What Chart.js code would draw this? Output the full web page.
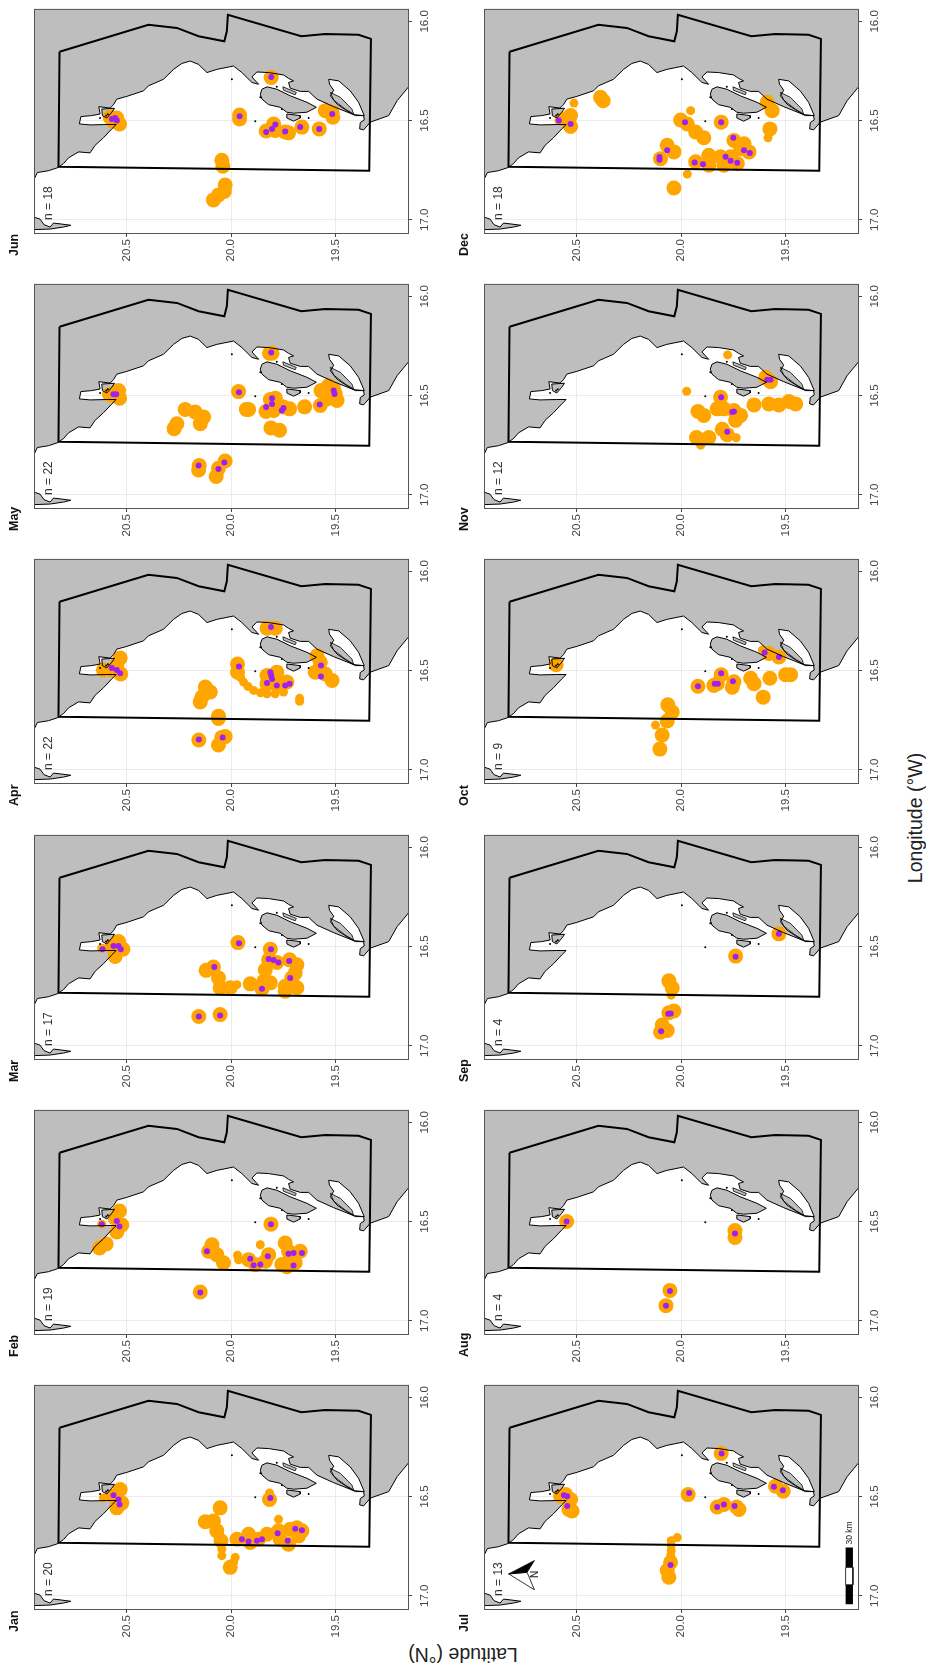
<!DOCTYPE html>
<html>
<head>
<meta charset="utf-8">
<title>Monthly density maps</title>
<script src="https://cdn.jsdelivr.net/npm/chart.js@4"></script>
<style>
  body { margin: 0; background: #fff; }
  #page { position: relative; width: 926px; height: 1667px; overflow: hidden; background: #fff; }
  canvas { position: absolute; }
  .axis-title { position: absolute; font-family: "Liberation Sans", sans-serif; font-size: 19.5px; color: #222; white-space: nowrap; }
</style>
</head>
<body>
<div id="page">
  <div class="axis-title" style="left:463px;top:1654px;transform:translate(-50%,-50%) rotate(180deg)">Latitude (°N)</div>
  <div class="axis-title" style="left:915px;top:818px;transform:translate(-50%,-50%) rotate(-90deg)">Longitude (°W)</div>
</div>
<script>
const months = ['Jan', 'Feb', 'Mar', 'Apr', 'May', 'Jun', 'Jul', 'Aug', 'Sep', 'Oct', 'Nov', 'Dec'];
const counts = [20, 19, 17, 22, 22, 18, 13, 4, 4, 9, 12, 18];
const latTicks = [20.5, 20.0, 19.5];
const lonTicks = [16.0, 16.5, 17.0];

// all map points are [latitude, longitude]
const coast = [[20.943,16.797],[20.927,16.762],[20.874,16.753],[20.831,16.738],[20.802,16.717],[20.778,16.688],[20.730,16.658],[20.675,16.663],[20.651,16.625],[20.611,16.587],[20.571,16.542],[20.550,16.520],[20.595,16.520],[20.675,16.522],[20.726,16.517],[20.719,16.480],[20.667,16.475],[20.627,16.467],[20.633,16.430],[20.579,16.437],[20.563,16.420],[20.547,16.392],[20.499,16.378],[20.419,16.350],[20.396,16.325],[20.324,16.292],[20.276,16.242],[20.236,16.212],[20.196,16.200],[20.156,16.217],[20.116,16.258],[20.069,16.242],[19.989,16.225],[19.949,16.258],[19.901,16.308],[19.869,16.317],[19.901,16.280],[19.877,16.255],[19.821,16.258],[19.750,16.270],[19.726,16.287],[19.702,16.300],[19.726,16.308],[19.718,16.337],[19.670,16.353],[19.630,16.353],[19.590,16.392],[19.510,16.430],[19.415,16.470],[19.367,16.475],[19.364,16.497],[19.383,16.510],[19.386,16.542],[19.367,16.547],[19.335,16.508],[19.247,16.475],[19.207,16.400],[19.152,16.330]];
const landCorners = [[19.1,16.33],[19.1,15.9],[21.0,15.9],[21.0,16.797]];
const southLand = [[20.943,16.987],[20.914,16.997],[20.895,17.025],[20.866,17.037],[20.850,17.017],[20.810,17.022],[20.767,17.028],[20.802,17.037],[20.866,17.047],[20.943,17.050]];
const lagoon = [[19.534,16.292],[19.486,16.300],[19.431,16.350],[19.391,16.408],[19.364,16.475],[19.407,16.475],[19.447,16.450],[19.494,16.417],[19.526,16.375],[19.510,16.347],[19.530,16.317]];
const lagoonSpit = [[19.526,16.358],[19.478,16.383],[19.423,16.442],[19.415,16.467],[19.455,16.442],[19.510,16.397]];
const bigIsland = [[19.853,16.342],[19.829,16.330],[19.782,16.342],[19.718,16.375],[19.638,16.408],[19.593,16.433],[19.638,16.458],[19.702,16.463],[19.734,16.458],[19.766,16.433],[19.821,16.420],[19.853,16.392],[19.861,16.367]];
const smallIsland = [[19.734,16.467],[19.670,16.475],[19.670,16.487],[19.702,16.503],[19.734,16.487]];
const capIsland = [[20.619,16.442],[20.558,16.438],[20.571,16.458],[20.595,16.487],[20.616,16.475]];
const sandBank = [[19.753,16.330],[19.689,16.358],[19.694,16.370],[19.750,16.347]];
const islets = [[19.997,16.292],[19.861,16.383],[19.885,16.503],[19.758,16.442],[19.630,16.487],[19.782,16.330],[20.627,16.487],[20.598,16.475],[20.590,16.468]];
const boundary = [[20.821,16.153],[20.396,16.017],[20.260,16.033],[20.156,16.075],[20.033,16.100],[20.021,16.050],[20.016,15.967],[19.665,16.075],[19.550,16.063],[19.391,16.067],[19.332,16.088],[19.340,16.753],[20.826,16.733],[20.821,16.153]];

const janOrange = [[20.531,16.465],[20.523,16.532],[20.547,16.557],[20.563,16.498],[19.817,16.515],[20.053,16.557],[20.124,16.627],[20.085,16.623],[20.069,16.673],[20.049,16.723],[20.005,16.857],[19.973,16.715],[19.917,16.690],[19.909,16.732],[19.869,16.715],[19.829,16.690],[19.774,16.673],[19.766,16.715],[19.726,16.740],[19.678,16.698],[19.686,16.657],[19.718,16.665],[19.662,16.673]];
const janThin = [[19.817,16.482],[20.045,16.765],[20.045,16.798],[19.981,16.807],[19.989,16.832],[19.774,16.615],[20.611,16.507]];
const janPurple = [[20.563,16.493],[20.539,16.515],[20.534,16.540],[19.813,16.507],[19.949,16.715],[19.917,16.727],[19.877,16.723],[19.853,16.715],[19.778,16.685],[19.730,16.723],[19.694,16.662],[19.662,16.670]];

const febOrange = [[20.534,16.447],[20.523,16.517],[20.547,16.553],[20.555,16.483],[20.598,16.613],[20.630,16.633],[19.810,16.513],[20.148,16.855],[20.092,16.617],[20.108,16.650],[20.069,16.667],[20.037,16.708],[19.917,16.692],[19.885,16.717],[19.821,16.667],[19.837,16.700],[19.742,16.608],[19.670,16.650],[19.726,16.650],[19.758,16.717],[19.734,16.728],[19.694,16.708],[19.718,16.683]];
const febThin = [[19.965,16.693],[19.970,16.670],[19.861,16.617],[20.619,16.513]];
const febPurple = [[20.547,16.497],[20.534,16.525],[20.619,16.513],[19.810,16.513],[20.148,16.858],[20.116,16.650],[19.909,16.688],[19.893,16.720],[19.861,16.717],[19.825,16.675],[19.726,16.662],[19.702,16.658],[19.662,16.658],[19.702,16.722]];

const marOrange = [[20.539,16.475],[20.518,16.513],[20.555,16.550],[20.571,16.500],[19.968,16.480],[19.813,16.513],[19.821,16.567],[19.837,16.617],[19.845,16.675],[19.853,16.713],[19.813,16.683],[19.782,16.580],[19.721,16.567],[19.686,16.592],[19.694,16.633],[19.710,16.658],[19.742,16.700],[19.742,16.725],[19.686,16.708],[20.120,16.620],[20.085,16.603],[20.061,16.658],[20.053,16.708],[20.005,16.708],[19.909,16.688],[20.155,16.853],[20.053,16.843]];
const marThin = [[20.619,16.508],[19.973,16.692]];
const marPurple = [[20.563,16.497],[20.539,16.497],[20.528,16.513],[20.615,16.513],[19.963,16.483],[19.810,16.513],[19.821,16.563],[19.797,16.568],[19.774,16.580],[19.723,16.573],[19.718,16.658],[19.853,16.713],[20.081,16.603],[20.155,16.853],[20.053,16.847]];

const aprOrange = [[20.611,16.497],[20.531,16.437],[20.547,16.475],[20.528,16.517],[20.571,16.497],[19.970,16.467],[19.970,16.508],[19.829,16.525],[19.782,16.508],[19.829,16.567],[19.782,16.567],[19.734,16.558],[19.829,16.287],[19.789,16.287],[19.590,16.425],[19.574,16.458],[19.598,16.508],[19.550,16.517],[19.518,16.550],[20.124,16.583],[20.100,16.608],[20.140,16.633],[20.148,16.658],[20.061,16.730],[20.061,16.742],[20.155,16.850],[20.045,16.837],[20.029,16.833],[20.061,16.875]];
const aprThin = [[19.955,16.535],[19.941,16.558],[19.920,16.580],[19.893,16.600],[19.860,16.612],[19.829,16.617],[19.790,16.617],[19.750,16.608],[19.673,16.640],[19.673,16.655]];
const aprPurple = [[20.571,16.487],[20.547,16.497],[20.531,16.513],[19.963,16.480],[19.813,16.508],[19.809,16.525],[19.805,16.542],[19.829,16.563],[19.782,16.575],[19.742,16.575],[19.721,16.567],[19.810,16.280],[19.571,16.475],[19.571,16.530],[20.155,16.848],[20.041,16.838]];

const mayOrange = [[20.582,16.495],[20.539,16.475],[20.534,16.513],[20.563,16.500],[19.965,16.480],[19.928,16.570],[19.917,16.570],[19.834,16.580],[19.813,16.520],[19.789,16.513],[19.797,16.575],[19.750,16.558],[19.721,16.567],[19.774,16.550],[19.649,16.557],[19.571,16.475],[19.574,16.550],[19.534,16.450],[19.502,16.492],[19.494,16.525],[19.542,16.517],[19.510,16.467],[19.817,16.287],[19.805,16.287],[19.810,16.663],[19.769,16.675],[20.220,16.570],[20.172,16.583],[20.132,16.608],[20.148,16.642],[20.260,16.642],[20.273,16.667],[20.153,16.853],[20.156,16.875],[20.029,16.830],[20.061,16.867],[20.072,16.908]];
const mayThin = [];
const mayPurple = [[20.563,16.493],[20.550,16.493],[19.963,16.483],[19.805,16.513],[19.805,16.542],[19.833,16.558],[19.750,16.563],[19.758,16.575],[19.577,16.545],[19.510,16.475],[19.506,16.492],[19.809,16.283],[20.156,16.853],[20.033,16.837],[20.061,16.870]];

const junOrange = [[20.579,16.483],[20.547,16.487],[20.534,16.517],[20.566,16.503],[19.960,16.472],[19.960,16.492],[19.833,16.553],[19.797,16.517],[19.789,16.550],[19.742,16.558],[19.726,16.562],[19.662,16.533],[19.579,16.542],[19.550,16.450],[19.518,16.458],[19.514,16.483],[19.809,16.283],[20.045,16.700],[20.040,16.730],[20.029,16.825],[20.033,16.858],[20.061,16.875],[20.085,16.900]];
const junThin = [];
const junPurple = [[20.571,16.492],[20.555,16.487],[20.547,16.500],[19.960,16.478],[19.789,16.520],[19.805,16.542],[19.833,16.558],[19.742,16.555],[19.670,16.533],[19.579,16.542],[19.517,16.467],[19.809,16.280]];

const julOrange = [[20.553,16.490],[20.529,16.515],[20.537,16.565],[20.522,16.573],[20.577,16.498],[19.967,16.490],[19.828,16.553],[19.796,16.540],[19.735,16.553],[19.724,16.565],[19.809,16.283],[19.549,16.448],[19.512,16.473],[20.051,16.832],[20.067,16.873],[20.059,16.907]];
const julThin = [[20.019,16.707],[20.048,16.723],[20.048,16.745],[20.048,16.773],[20.050,16.795]];
const julPurple = [[20.561,16.493],[20.545,16.498],[20.545,16.548],[19.962,16.482],[19.828,16.553],[19.796,16.540],[19.745,16.548],[19.807,16.283],[19.557,16.450],[19.514,16.468],[20.051,16.845]];

const augOrange = [[20.548,16.500],[19.743,16.545],[19.743,16.580],[20.054,16.847],[20.073,16.924]];
const augThin = [];
const augPurple = [[20.548,16.500],[19.743,16.560],[20.054,16.850],[20.073,16.924]];

const sepOrange = [[19.533,16.436],[19.740,16.548],[20.059,16.673],[20.043,16.709],[20.059,16.834],[20.035,16.825],[20.091,16.896],[20.099,16.932],[20.067,16.923]];
const sepThin = [[20.048,16.745]];
const sepPurple = [[19.533,16.436],[19.740,16.552],[20.062,16.839],[20.050,16.838],[20.096,16.927]];

const octOrange = [[20.598,16.471],[19.920,16.579],[19.828,16.566],[19.809,16.521],[19.844,16.575],[19.748,16.557],[19.756,16.584],[19.668,16.539],[19.652,16.566],[19.576,16.539],[19.501,16.521],[19.477,16.521],[19.608,16.634],[19.581,16.414],[19.533,16.432],[20.064,16.673],[20.043,16.709],[20.067,16.754],[20.091,16.825],[20.102,16.896]];
const octThin = [[20.123,16.775],[19.612,16.396]];
const octPurple = [[19.920,16.579],[19.825,16.566],[19.840,16.566],[19.809,16.514],[19.753,16.554],[19.601,16.409],[19.533,16.432]];

const novOrange = [[19.596,16.408],[19.573,16.430],[19.812,16.508],[19.828,16.567],[19.796,16.567],[19.748,16.575],[19.716,16.600],[19.740,16.625],[19.920,16.580],[19.892,16.600],[19.804,16.670],[19.780,16.697],[19.927,16.712],[19.868,16.712],[19.652,16.547],[19.581,16.542],[19.533,16.547],[19.485,16.530],[19.453,16.542]];
const novThin = [[19.778,16.295],[19.974,16.478],[19.737,16.713],[19.907,16.750]];
const novPurple = [[19.589,16.420],[19.573,16.420],[19.809,16.508],[19.748,16.580],[19.756,16.583],[19.780,16.683]];

const decOrange = [[20.386,16.383],[20.373,16.400],[20.529,16.475],[20.529,16.530],[20.561,16.492],[20.003,16.497],[19.971,16.517],[19.809,16.508],[19.931,16.558],[19.892,16.587],[19.576,16.542],[19.589,16.408],[19.565,16.450],[20.067,16.625],[20.035,16.658],[20.099,16.692],[20.035,16.840],[19.931,16.708],[19.868,16.675],[19.868,16.725],[19.812,16.683],[19.796,16.725],[19.732,16.717],[19.764,16.683],[19.748,16.600],[19.700,16.617],[19.676,16.658],[19.716,16.642]];
const decThin = [[19.971,16.770],[20.513,16.412],[19.585,16.587],[20.585,16.500],[19.955,16.450]];
const decPurple = [[20.585,16.500],[20.529,16.517],[19.982,16.508],[19.809,16.508],[20.067,16.650],[20.104,16.697],[20.104,16.684],[19.936,16.712],[19.896,16.720],[19.788,16.683],[19.764,16.703],[19.732,16.713],[19.751,16.587],[19.700,16.650],[19.672,16.663]];

const orangeByMonth = [janOrange, febOrange, marOrange, aprOrange, mayOrange, junOrange, julOrange, augOrange, sepOrange, octOrange, novOrange, decOrange];
const thinByMonth = [janThin, febThin, marThin, aprThin, mayThin, junThin, julThin, augThin, sepThin, octThin, novThin, decThin];
const purpleByMonth = [janPurple, febPurple, marPurple, aprPurple, mayPurple, junPurple, julPurple, augPurple, sepPurple, octPurple, novPurple, decPurple];

// July only: north arrow and 30 km scale bar
const arrowDark = [[20.825,16.890],[20.702,16.823],[20.737,16.882]];
const arrowLight = [[20.825,16.890],[20.737,16.882],[20.702,16.970]];
const barEndA = [[19.214,16.757],[19.179,16.757],[19.179,16.857],[19.214,16.857]];
const barMiddle = [[19.214,16.857],[19.179,16.857],[19.179,16.945],[19.214,16.945]];
const barEndB = [[19.214,16.945],[19.179,16.945],[19.179,17.043],[19.214,17.043]];

const latRange = [19.150, 20.943];
const lonRange = [15.937, 17.072];

const GRAY = '#bebebe';
const ORANGE = '#ffa500';
const PURPLE = '#a020f0';
const FONT = '"Liberation Sans", sans-serif';

function pts(list) {
    return list.map(p => ({ x: p[0], y: p[1] }));
}

function fillShape(list, color) {
    return { data: pts(list), showLine: true, fill: 'shape', backgroundColor: color, borderWidth: 0, pointRadius: 0 };
}

function outline(list, width, closed) {
    const line = closed ? list.concat([list[0]]) : list;
    return { data: pts(line), showLine: true, fill: false, borderColor: '#000', borderWidth: width, pointRadius: 0 };
}

function dots(list, color, radius) {
    return { data: pts(list), showLine: false, pointRadius: radius, pointBackgroundColor: color, pointBorderWidth: 0 };
}

function rotatedText(ctx, text, x, y, font, color, align) {
    ctx.save();
    ctx.translate(x, y);
    ctx.rotate(-Math.PI / 2);
    ctx.font = font;
    ctx.fillStyle = color;
    ctx.textAlign = align;
    ctx.textBaseline = 'middle';
    ctx.fillText(text, 0, 0);
    ctx.restore();
}

// frame round the map plus the month, n and July labels
const panelText = {
    id: 'panelText',
    afterDraw(chart, args, opts) {
        const ctx = chart.ctx;
        const a = chart.chartArea;
        ctx.save();
        ctx.strokeStyle = '#555';
        ctx.lineWidth = 1;
        ctx.strokeRect(a.left + 0.5, a.top + 0.5, a.width - 1, a.height - 1);
        ctx.restore();
        rotatedText(ctx, opts.month, a.left - 19, a.bottom + 22, 'bold 12.5px ' + FONT, '#111', 'left');
        rotatedText(ctx, 'n = ' + opts.n, a.left + 15, a.top + 211, '12px ' + FONT, '#333', 'left');
        if (opts.month === 'Jul') {
            const x = chart.scales.x;
            const y = chart.scales.y;
            rotatedText(ctx, 'N', x.getPixelForValue(20.697), y.getPixelForValue(16.893), '10px ' + FONT, '#111', 'center');
            rotatedText(ctx, '30 km', x.getPixelForValue(19.196), y.getPixelForValue(16.742), '8.5px ' + FONT, '#222', 'left');
        }
    }
};

const page = document.getElementById('page');
const panelTops = [7, 282, 557, 833, 1108, 1383];
const panelLefts = [34, 484];

months.forEach((month, i) => {
    const col = i < 6 ? 0 : 1;
    const row = 5 - (i % 6);
    const canvas = document.createElement('canvas');
    canvas.width = 425;
    canvas.height = 265;
    canvas.style.left = (panelLefts[col] - 25) + 'px';
    canvas.style.top = (panelTops[row] - 7) + 'px';
    page.appendChild(canvas);

    // first dataset ends up on top
    const datasets = [
        outline(boundary, 2, false),
        outline(coast, 1, false),
        outline(southLand, 1, true),
        outline(lagoon, 1, true),
        outline(lagoonSpit, 0.8, true),
        outline(bigIsland, 1, true),
        outline(smallIsland, 1, true),
        outline(capIsland, 1, true),
        outline(sandBank, 0.8, true),
        dots(islets, '#000', 1)
    ];
    if (month === 'Jul') {
        datasets.push(
            outline(arrowDark, 0.8, true),
            outline(arrowLight, 0.8, true),
            fillShape(arrowDark, '#000'),
            outline(barMiddle, 0.8, true),
            fillShape(barEndA, '#000'),
            fillShape(barEndB, '#000')
        );
    }
    datasets.push(
        dots(purpleByMonth[i], PURPLE, 3),
        dots(thinByMonth[i], ORANGE, 4.5),
        dots(orangeByMonth[i], ORANGE, 7.5),
        fillShape(lagoonSpit, GRAY),
        fillShape(sandBank, GRAY),
        fillShape(capIsland, GRAY),
        fillShape(smallIsland, GRAY),
        fillShape(bigIsland, GRAY),
        fillShape(lagoon, '#fff'),
        fillShape(southLand, GRAY),
        fillShape(coast.concat(landCorners), GRAY)
    );

    new Chart(canvas.getContext('2d'), {
        type: 'scatter',
        data: { datasets: datasets },
        plugins: [panelText],
        options: {
            responsive: false,
            animation: false,
            elements: { line: { tension: 0 } },
            layout: { padding: { left: 25, top: 7, right: 0, bottom: 0 } },
            plugins: {
                legend: { display: false },
                tooltip: { enabled: false },
                panelText: { month: month, n: counts[i] }
            },
            scales: {
                x: {
                    type: 'linear',
                    position: 'bottom',
                    reverse: true,
                    min: latRange[0],
                    max: latRange[1],
                    afterBuildTicks: s => { s.ticks = latTicks.map(v => ({ value: v })); },
                    afterFit: s => { s.height = 31; },
                    grid: { color: '#ebebeb', tickColor: '#444', tickLength: 3 },
                    border: { display: false },
                    ticks: {
                        autoSkip: false,
                        minRotation: 90,
                        maxRotation: 90,
                        padding: 2,
                        color: '#444',
                        font: { family: FONT, size: 11.5 },
                        callback: v => Number(v).toFixed(1)
                    }
                },
                y: {
                    type: 'linear',
                    position: 'right',
                    reverse: true,
                    min: lonRange[0],
                    max: lonRange[1],
                    afterBuildTicks: s => { s.ticks = lonTicks.map(v => ({ value: v })); },
                    afterFit: s => { s.width = 25; },
                    grid: { color: '#ebebeb', tickColor: '#444', tickLength: 3 },
                    border: { display: false },
                    ticks: {
                        autoSkip: false,
                        minRotation: 90,
                        maxRotation: 90,
                        crossAlign: 'center',
                        padding: 2,
                        color: '#444',
                        font: { family: FONT, size: 11.5 },
                        callback: v => Number(v).toFixed(1)
                    }
                }
            }
        }
    });
});
</script>
</body>
</html>
